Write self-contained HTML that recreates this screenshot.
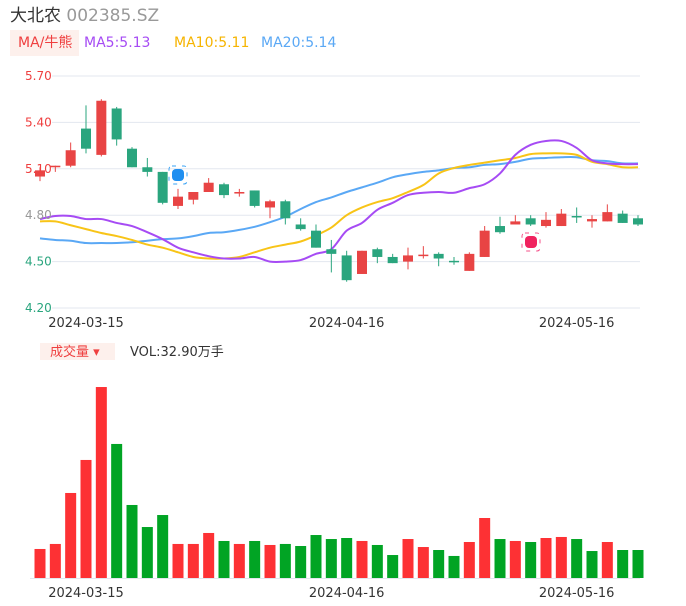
<!DOCTYPE html>
<html><head><meta charset="utf-8">
<style>
body{margin:0;background:#fff;width:686px;height:606px;overflow:hidden;font-family:"Liberation Sans","Noto Sans CJK SC",sans-serif;}
svg{position:absolute;left:0;top:0}
text{font-family:"DejaVu Sans","Noto Sans CJK SC",sans-serif}
</style></head>
<body>
<svg id="c" width="686" height="606">
  <text x="10" y="21" font-size="17" fill="#333">大北农 <tspan fill="#999">002385.SZ</tspan></text>
  <rect x="10" y="30" width="69" height="26" fill="#fdf0ec"/>
  <text x="18" y="47" font-size="14" fill="#ef3f3f">MA/牛熊</text>
  <text x="84" y="47" font-size="14" fill="#a64bf4">MA5:5.13</text>
  <text x="174" y="47" font-size="14" fill="#f6b400">MA10:5.11</text>
  <text x="261" y="47" font-size="14" fill="#5aa8f5">MA20:5.14</text>
  <rect x="40" y="343" width="75" height="17" fill="#fdf0ec"/>
  <text x="50" y="356" font-size="13" fill="#ef3f3f">成交量 ▾</text>
  <text x="130" y="356" font-size="13" fill="#333">VOL:32.90万手</text>
  <g id="grid"></g><g id="ma"></g><g id="candles"></g><g id="vol"></g><g id="axes"></g>
</svg>
<script>
const dates=["2024-03-15","2024-04-16","2024-05-16"];
const dateIdx=[3,20,35];
const yTicks=[5.70,5.40,5.10,4.80,4.50,4.20];
const open =[5.05,5.11,5.12,5.36,5.19,5.49,5.23,5.11,5.08,4.86,4.90,4.95,5.00,4.94,4.96,4.85,4.89,4.74,4.70,4.58,4.54,4.42,4.58,4.53,4.50,4.54,4.55,4.505,4.44,4.53,4.73,4.74,4.78,4.73,4.73,4.795,4.76,4.76,4.81,4.78];
const close=[5.09,5.12,5.22,5.23,5.54,5.29,5.11,5.08,4.88,4.92,4.95,5.01,4.93,4.95,4.86,4.89,4.78,4.71,4.59,4.55,4.38,4.57,4.53,4.49,4.54,4.545,4.52,4.50,4.55,4.70,4.69,4.76,4.74,4.77,4.81,4.79,4.775,4.82,4.75,4.74];
const high =[5.11,5.12,5.27,5.51,5.55,5.50,5.24,5.17,5.08,4.97,4.95,5.04,5.01,4.97,4.96,4.90,4.90,4.78,4.74,4.64,4.57,4.57,4.59,4.55,4.59,4.60,4.56,4.53,4.56,4.73,4.79,4.80,4.80,4.82,4.84,4.85,4.80,4.87,4.83,4.80];
const low  =[5.02,5.08,5.11,5.20,5.18,5.25,5.11,5.05,4.87,4.84,4.87,4.95,4.91,4.92,4.85,4.78,4.74,4.70,4.59,4.43,4.37,4.42,4.49,4.49,4.45,4.52,4.47,4.48,4.44,4.53,4.68,4.74,4.73,4.72,4.73,4.75,4.72,4.76,4.75,4.73];
const ma5 =[4.775,4.795,4.795,4.775,4.775,4.75,4.73,4.69,4.645,4.59,4.56,4.535,4.52,4.52,4.53,4.50,4.50,4.51,4.55,4.58,4.70,4.75,4.835,4.88,4.93,4.945,4.95,4.945,4.975,5.00,5.07,5.19,5.255,5.28,5.28,5.235,5.155,5.135,5.13,5.13];
const ma10=[4.76,4.76,4.735,4.71,4.685,4.665,4.64,4.61,4.59,4.56,4.53,4.52,4.52,4.53,4.56,4.59,4.61,4.63,4.67,4.72,4.80,4.85,4.885,4.91,4.95,4.995,5.07,5.105,5.125,5.14,5.155,5.17,5.195,5.20,5.20,5.19,5.145,5.13,5.11,5.11];
const ma20=[4.65,4.64,4.635,4.62,4.62,4.62,4.625,4.635,4.645,4.65,4.665,4.685,4.69,4.705,4.725,4.755,4.79,4.84,4.885,4.915,4.95,4.98,5.01,5.045,5.065,5.08,5.09,5.105,5.11,5.125,5.13,5.145,5.165,5.17,5.175,5.175,5.155,5.15,5.135,5.135];
const vol=[34.1,40.0,99.9,138.7,224.4,157.5,85.8,59.9,74.0,40.0,40.0,52.9,43.5,40.0,43.5,38.8,40.0,37.6,50.5,45.8,47.0,43.5,38.8,27.0,45.8,36.4,32.9,25.9,42.3,70.5,45.8,43.5,42.3,47.0,48.2,45.8,31.7,42.3,32.9,32.9];
const volUp=[1,1,1,1,1,0,0,0,0,1,1,1,0,1,0,1,0,0,0,0,0,1,0,0,1,1,0,0,1,1,0,1,0,1,1,0,0,1,0,0];

const NS="http://www.w3.org/2000/svg";
function mk(p,tag,a){const e=document.createElementNS(NS,tag);for(const k in a)e.setAttribute(k,a[k]);p.appendChild(e);return e;}
const x=i=>40+i*(638-40)/39;
const y=v=>76+(5.70-v)*232/1.5;
const vy=v=>578-v/1.175;
const G=id=>document.getElementById(id);
function smooth(pts){
  let d='M'+pts[0][0]+','+pts[0][1];
  for(let i=0;i<pts.length-1;i++){
    const p0=pts[Math.max(0,i-1)],p1=pts[i],p2=pts[i+1],p3=pts[Math.min(pts.length-1,i+2)];
    const c1x=p1[0]+(p2[0]-p0[0])/6,c1y=p1[1]+(p2[1]-p0[1])/6;
    const c2x=p2[0]-(p3[0]-p1[0])/6,c2y=p2[1]-(p3[1]-p1[1])/6;
    d+=' C'+c1x+','+c1y+' '+c2x+','+c2y+' '+p2[0]+','+p2[1];
  }
  return d;
}

yTicks.forEach((t,i)=>{
  const l=mk(G('grid'),'line',{x1:52,x2:640,y1:y(t),y2:y(t),stroke:'#e3e7ef','stroke-width':1});
  
  
  const col=t>4.85?'#ef3f3f':(t>4.75?'#999':'#2aa57e');
  const tx=mk(G('axes'),'text',{x:25,y:y(t)+4,'font-size':12,fill:col});
  tx.textContent=t.toFixed(2);
  
  
});
mk(G('grid'),'line',{x1:30,x2:640,y1:578.5,y2:578.5,stroke:'#e3e7ef'});
dates.forEach((d,i)=>{
  [327,597].forEach(yy=>{
    const tx=mk(G('axes'),'text',{x:x(dateIdx[i]),y:yy,'font-size':13,fill:'#333','text-anchor':'middle'});
    tx.textContent=d;
    
    
  });
});
[[ma20,'#5aa8f5','ma20-line'],[ma10,'#f8c417','ma10-line'],[ma5,'#a64bf4','ma5-line']].forEach(([arr,c,n])=>{
  const p=mk(G('ma'),'path',{d:smooth(arr.map((v,i)=>[x(i),y(v)])),fill:'none',stroke:c,'stroke-width':2,'stroke-linejoin':'round'});
  
  
});
open.forEach((o,i)=>{
  const up=close[i]>=o, c=up?'#e84444':'#2aa57e';
  const g=mk(G('candles'),'g',{});
  
  
  mk(g,'line',{x1:x(i),x2:x(i),y1:y(high[i]),y2:y(low[i]),stroke:c,'stroke-width':1});
  const t=y(Math.max(o,close[i])),b=y(Math.min(o,close[i]));
  mk(g,'rect',{x:x(i)-5,y:t,width:10,height:Math.max(1.5,b-t),fill:c});
  const vb=mk(G('vol'),'rect',{x:x(i)-5.5,y:vy(vol[i]),width:11,height:578-vy(vol[i]),fill:volUp[i]?'#fd3134':'#01a424'});
  
  
});
const b1=mk(G('axes'),'g',{});


mk(b1,'rect',{x:169,y:166,width:18,height:18,rx:3,fill:'none',stroke:'#3aa3f5','stroke-dasharray':'4 6'});
mk(b1,'rect',{x:172,y:169,width:12,height:12,rx:4,fill:'#1f8ff0'});
const b2=mk(G('axes'),'g',{});


mk(b2,'rect',{x:522,y:233,width:18,height:18,rx:3,fill:'none',stroke:'#f5508a','stroke-dasharray':'4 6'});
mk(b2,'rect',{x:525,y:236,width:12,height:12,rx:4,fill:'#f0235f'});
</script>
</body></html>
